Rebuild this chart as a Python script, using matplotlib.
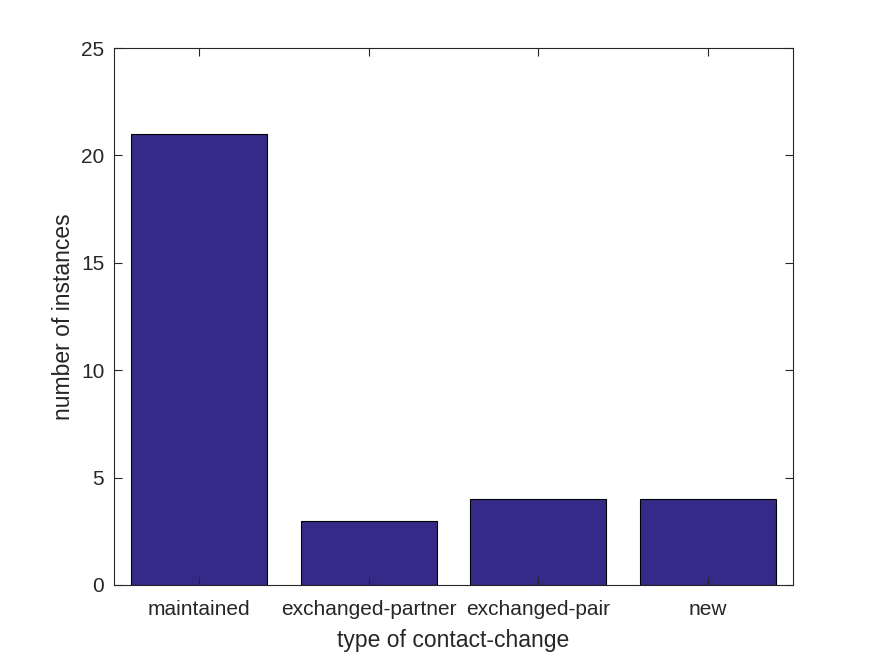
import matplotlib
matplotlib.use("Agg")
import matplotlib.pyplot as plt

categories = ["maintained", "exchanged-partner", "exchanged-pair", "new"]
counts = [21, 3, 4, 4]
yticks = [0, 5, 10, 15, 20, 25]

plt.rcParams['font.family'] = ['Liberation Sans', 'DejaVu Sans']
fig = plt.figure(figsize=(8.75, 6.56), dpi=100)
ax = fig.add_axes([114/875, 1-585/656, (793-114)/875, (585-48)/656])
x = list(range(1, len(categories)+1))
ax.bar(x, counts, width=0.8, color='#352a87', edgecolor='black', linewidth=0.8)
ax.set_xlim(0.5, 4.5)
ax.set_ylim(0, 25)
ax.set_xticks(x)
ax.set_xticklabels(categories)
ax.set_yticks(yticks)
c = '#262626'
for s in ax.spines.values():
    s.set_color(c)
    s.set_linewidth(0.8)
ax.tick_params(direction='in', top=True, right=True, length=6, width=0.8,
               colors=c, labelsize=15, pad=11)
ax.tick_params(axis='y', pad=7)
ax.set_xlabel('type of contact-change', fontsize=16.5, color=c, labelpad=7)
ax.set_ylabel('number of instances', fontsize=16.5, color=c, labelpad=4)
fig.savefig('out.png', dpi=100)
